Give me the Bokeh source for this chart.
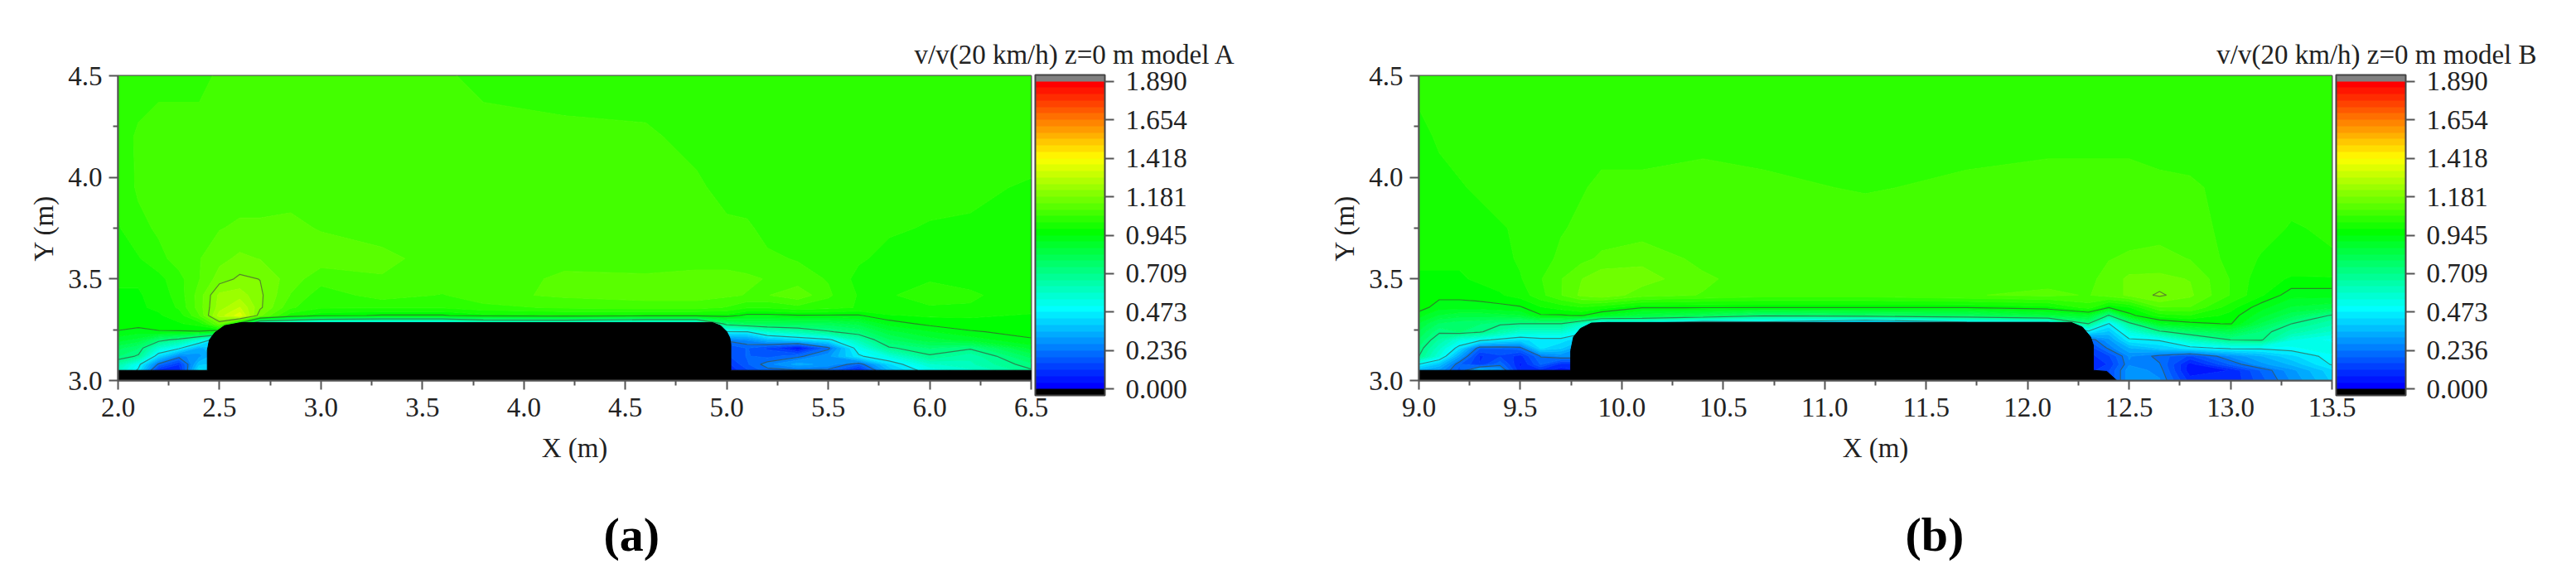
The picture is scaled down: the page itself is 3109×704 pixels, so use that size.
from bokeh.embed import file_html
from bokeh.resources import INLINE
from bokeh.plotting import figure
from bokeh.layouts import row
from bokeh.models import ColorBar, FixedTicker, LinearColorMapper, Range1d, Title
import numpy as np

# ---------- shared scale ----------
colorbar_ticks = [0.000, 0.236, 0.473, 0.709, 0.945, 1.181, 1.418, 1.654, 1.890]
colorbar_tick_labels = ["0.000", "0.236", "0.473", "0.709", "0.945", "1.181", "1.418", "1.654", "1.890"]
contour_line_levels = [0.236, 0.473, 0.709, 0.945, 1.181]
band_count = 48
y_ticks = [3.0, 3.5, 4.0, 4.5]
y_minor = [3.25, 3.75, 4.25]

# ---------- panel A: v/v in hundredths on a rectilinear grid, rows ascending in y ----------
a_x = [2.0, 2.1, 2.2, 2.3, 2.4, 2.5, 2.6, 2.7, 2.85, 3.0, 3.3, 3.6, 3.8, 4.2, 4.6, 4.85, 5.0, 5.1, 5.2, 5.35, 5.5, 5.65, 5.8, 6.0, 6.2, 6.5]
a_y = [3.05, 3.08, 3.12, 3.16, 3.2, 3.24, 3.28, 3.32, 3.36, 3.42, 3.5, 3.6, 3.75, 3.95, 4.2, 4.5]
a_speed = [
    [60, 46, 10, 8, 45, 40, 40, 40, 40, 40, 40, 40, 40, 40, 40, 40, 8, 15, 22, 23, 22, 8, 36, 52, 58, 70],
    [65, 50, 22, 12, 38, 40, 40, 40, 40, 40, 40, 40, 40, 40, 40, 40, 10, 19, 26, 33, 30, 20, 42, 58, 62, 74],
    [75, 70, 42, 26, 30, 40, 40, 40, 40, 40, 40, 40, 40, 40, 40, 40, 15, 20, 18, 22, 30, 46, 55, 70, 64, 80],
    [80, 75, 57, 49, 34, 40, 40, 40, 40, 40, 40, 40, 40, 40, 40, 40, 15, 20, 15, 4, 22, 52, 70, 75, 72, 88],
    [88, 85, 74, 68, 56, 40, 40, 40, 40, 40, 40, 40, 40, 40, 40, 40, 25, 28, 35, 40, 45, 63, 78, 85, 88, 94],
    [94, 92, 94, 94, 94, 90, 40, 40, 40, 40, 40, 40, 40, 40, 40, 40, 47, 47, 58, 63, 70, 75, 85, 90, 94, 96],
    [97, 97, 97, 98, 100, 115, 90, 50, 50, 42, 40, 40, 50, 50, 45, 45, 75, 80, 80, 80, 80, 84, 92, 96, 97, 97],
    [97, 97, 98, 100, 110, 128, 136, 115, 100, 96, 94, 94, 97, 98, 97, 97, 97, 93, 93, 94, 94, 94, 98, 99, 99, 98],
    [98, 98, 99, 103, 112, 124, 130, 119, 107, 103, 103, 103, 105, 107, 108, 108, 106, 103, 103, 105, 104, 102, 102, 102, 102, 100],
    [98, 98, 100, 104, 112, 123, 124, 119, 110, 104, 108, 106, 109, 111, 112, 112, 111, 110, 110, 113, 107, 102, 102, 104, 103, 100],
    [99, 99, 101, 105, 110, 116, 119, 118, 112, 108, 110, 109, 108, 111, 111, 112, 112, 111, 110, 108, 106, 101, 101, 102, 101, 100],
    [100, 102, 105, 108, 110, 113, 115, 114, 113, 112, 111, 109, 108, 109, 108, 108, 108, 108, 107, 106, 104, 103, 101, 100, 100, 100],
    [102, 105, 107, 108, 109, 110, 111, 111, 111, 110, 109, 108, 108, 108, 108, 108, 107, 107, 105, 104, 104, 103, 103, 102, 102, 101],
    [103, 107, 108, 108, 108, 108, 108, 108, 109, 109, 109, 108, 108, 108, 108, 107, 105, 104, 104, 104, 104, 104, 104, 104, 103, 102],
    [104, 107, 108, 108, 108, 108, 108, 108, 108, 108, 108, 108, 108, 107, 107, 105, 104, 104, 104, 104, 104, 104, 104, 104, 104, 104],
    [104, 104, 105, 105, 105, 107, 107, 107, 108, 108, 108, 107, 105, 105, 104, 104, 104, 104, 104, 104, 104, 104, 104, 104, 104, 104],
]
a_obstacle_x = [2.0, 2.0, 2.44, 2.44, 2.45, 2.476, 2.524, 2.605, 4.93, 4.97, 5.0, 5.015, 5.02, 5.02, 6.5, 6.5]
a_obstacle_y = [3.0, 3.05, 3.05, 3.15, 3.2, 3.235, 3.27, 3.285, 3.285, 3.27, 3.24, 3.21, 3.18, 3.05, 3.05, 3.0]
a_xticks = [2.0, 2.5, 3.0, 3.5, 4.0, 4.5, 5.0, 5.5, 6.0, 6.5]
a_xminor = [2.25, 2.75, 3.25, 3.75, 4.25, 4.75, 5.25, 5.75, 6.25]
a_title = "v/v(20 km/h) z=0 m model A"

# ---------- panel B ----------
b_x = [9.0, 9.1, 9.2, 9.3, 9.4, 9.5, 9.6, 9.7, 9.8, 9.9, 10.1, 10.4, 10.7, 11.2, 11.7, 12.1, 12.3, 12.4, 12.5, 12.65, 12.8, 13.0, 13.15, 13.3, 13.5]
b_y = [3.0, 3.05, 3.08, 3.12, 3.16, 3.2, 3.24, 3.28, 3.32, 3.36, 3.42, 3.5, 3.6, 3.75, 3.95, 4.2, 4.5]
b_speed = [
    [35, 30, 18, 38, 30, 8, 10, 6, 8, 40, 40, 40, 40, 40, 40, 40, 10, 15, 30, 28, 10, 8, 18, 28, 40],
    [35, 30, 18, 38, 30, 8, 10, 6, 8, 40, 40, 40, 40, 40, 40, 40, 10, 15, 30, 26, 5, 8, 20, 30, 42],
    [47, 38, 20, 12, 22, 7, 20, 10, 10, 40, 40, 40, 40, 40, 40, 40, 10, 12, 27, 24, 6, 20, 30, 36, 48],
    [71, 55, 32, 11, 15, 10, 24, 28, 28, 40, 40, 40, 40, 40, 40, 40, 10, 15, 28, 22, 15, 28, 35, 42, 50],
    [74, 60, 44, 20, 20, 22, 44, 40, 30, 40, 40, 40, 40, 40, 40, 40, 12, 25, 35, 40, 45, 49, 49, 50, 55],
    [78, 66, 55, 50, 45, 42, 45, 45, 40, 40, 40, 40, 40, 40, 40, 40, 20, 30, 46, 48, 60, 71, 72, 55, 50],
    [82, 72, 75, 72, 65, 58, 58, 58, 50, 40, 40, 40, 40, 40, 40, 40, 45, 38, 55, 69, 77, 82, 74, 65, 58],
    [86, 78, 76, 75, 72, 71, 71, 71, 60, 40, 45, 35, 40, 25, 40, 40, 71, 47, 68, 90, 93, 95, 82, 71, 64],
    [92, 86, 84, 84, 85, 86, 94, 94, 95, 90, 84, 80, 72, 76, 78, 85, 88, 70, 93, 100, 102, 97, 88, 80, 70],
    [97, 92, 92, 92, 93, 94, 98, 100, 102, 100, 95, 95, 95, 95, 95, 97, 104, 95, 98, 110, 110, 100, 92, 86, 84],
    [97, 96, 96, 97, 98, 100, 105, 110, 115, 117, 112, 110, 108, 108, 110, 111, 110, 112, 115, 119, 115, 106, 99, 92, 92],
    [98, 98, 98, 99, 100, 102, 106, 110, 114, 117, 116, 111, 108, 108, 109, 109, 109, 112, 115, 115, 114, 106, 100, 98, 98],
    [99, 99, 99, 100, 101, 103, 105, 107, 109, 111, 113, 109, 108, 108, 108, 108, 108, 110, 111, 112, 110, 105, 102, 101, 102],
    [100, 100, 100, 101, 102, 103, 104, 106, 107, 108, 108, 108, 108, 108, 108, 108, 108, 108, 108, 108, 108, 105, 104, 102, 103],
    [100, 101, 102, 103, 104, 104, 104, 105, 106, 107, 107, 108, 107, 106, 107, 108, 108, 108, 108, 107, 107, 105, 104, 104, 104],
    [101, 103, 104, 104, 104, 104, 104, 104, 104, 105, 105, 105, 105, 104, 105, 105, 105, 105, 105, 105, 104, 104, 104, 104, 104],
    [104, 104, 104, 104, 104, 104, 104, 104, 104, 104, 104, 104, 104, 104, 104, 104, 104, 104, 104, 104, 104, 104, 104, 104, 104],
]
b_obstacle_x = [9.0, 9.0, 9.748, 9.748, 9.762, 9.796, 9.85, 9.93, 12.215, 12.27, 12.31, 12.324, 12.324, 12.39, 12.44]
b_obstacle_y = [3.0, 3.05, 3.05, 3.147, 3.215, 3.256, 3.283, 3.286, 3.286, 3.263, 3.215, 3.174, 3.05, 3.045, 3.0]
b_xticks = [9.0, 9.5, 10.0, 10.5, 11.0, 11.5, 12.0, 12.5, 13.0, 13.5]
b_xminor = [9.25, 9.75, 10.25, 10.75, 11.25, 11.75, 12.25, 12.75, 13.25]
b_title = "v/v(20 km/h) z=0 m model B"

SERIF = "Liberation Serif"
AXIS = "#555555"
TEXT = "#222222"


def band_color(i):
    k = i if i <= 24 else 24 + (i - 24) * 24 / 23
    stops = [(0, 0, 255), (0, 255, 255), (0, 255, 0), (255, 255, 0), (255, 0, 0)]
    t = k / 12
    n = min(int(t), 3)
    f = t - n
    c = [round(stops[n][j] + (stops[n + 1][j] - stops[n][j]) * f) for j in range(3)]
    return "#%02x%02x%02x" % tuple(c)


palette = [band_color(i) for i in range(band_count)]
step = colorbar_ticks[-1] / band_count
levels = [i * step for i in range(band_count + 1)]


def panel(xs, ys, speed, ox, oy, xticks, xminor, title, tag, left, right, tag_offset):
    z = np.array(speed, dtype=float) / 100
    p = figure(
        frame_width=1102, frame_height=368,
        min_border_left=left, min_border_right=right, min_border_top=91, min_border_bottom=240,
        x_range=Range1d(xs[0], xs[-1]), y_range=Range1d(3.0, 4.5),
        toolbar_location=None, output_backend="svg", background_fill_color="white",
    )
    p.grid.visible = False
    p.outline_line_color = AXIS
    p.outline_line_width = 2
    p.contour(np.array(xs), np.array(ys), z, levels=levels, fill_color=palette,
              line_color=palette + [palette[-1]], line_width=1.2)
    p.contour(np.array(xs), np.array(ys), z, levels=contour_line_levels,
              line_color="#3c4a3c", line_width=1.2, line_alpha=0.65)
    p.patch(ox, oy, fill_color="black", line_color="black", line_width=1)

    for ax, label, major, minor in (
        (p.xaxis[0], "X (m)", xticks, xminor),
        (p.yaxis[0], "Y (m)", y_ticks, y_minor),
    ):
        ax.ticker = FixedTicker(ticks=major, minor_ticks=minor)
        ax.major_label_overrides = {t: "%.1f" % t for t in major}
        ax.axis_label = label
        ax.axis_label_text_font = SERIF
        ax.axis_label_text_font_style = "normal"
        ax.axis_label_text_font_size = "33px"
        ax.axis_label_text_color = TEXT
        ax.major_label_text_font = SERIF
        ax.major_label_text_font_size = "33px"
        ax.major_label_text_color = TEXT
        ax.axis_line_color = AXIS
        ax.axis_line_width = 2
        ax.major_tick_line_color = AXIS
        ax.minor_tick_line_color = AXIS
        ax.major_tick_line_width = 2
        ax.minor_tick_line_width = 2
        ax.major_tick_in = 0
        ax.minor_tick_in = 0
        ax.major_tick_out = 11
        ax.minor_tick_out = 6
    p.xaxis[0].major_label_standoff = 10
    p.xaxis[0].axis_label_standoff = 17
    p.yaxis[0].major_label_standoff = 8
    p.yaxis[0].axis_label_standoff = 8
    p.xaxis[0].major_label_orientation = "horizontal"

    mapper = LinearColorMapper(palette=["#000000"] + palette + ["#808080"],
                               low=-step, high=colorbar_ticks[-1] + step)
    bar = ColorBar(
        color_mapper=mapper, width=84, height=387, padding=0, margin=5, location=(5, -18),
        ticker=FixedTicker(ticks=colorbar_ticks),
        major_label_overrides={t: s for t, s in zip(colorbar_ticks, colorbar_tick_labels)},
        major_label_text_font=SERIF, major_label_text_font_size="33px", major_label_text_color=TEXT,
        major_tick_line_color=AXIS, major_tick_line_width=2, major_tick_in=0, major_tick_out=11,
        bar_line_color="#444444", bar_line_width=2, label_standoff=14,
        background_fill_alpha=0, border_line_color=None,
    )
    p.add_layout(bar, "right")

    p.add_layout(Title(text=title, align="right", offset=-247, standoff=12, vertical_align="top",
                       text_font=SERIF, text_font_size="33px", text_font_style="normal",
                       text_color=TEXT), "above")
    p.add_layout(Title(text=tag, align="left", offset=tag_offset, standoff=98,
                       text_font=SERIF, text_font_size="58px", text_font_style="bold",
                       text_color="black"), "below")
    return p


pa = panel(a_x, a_y, a_speed, a_obstacle_x, a_obstacle_y, a_xticks, a_xminor, a_title, "(a)",
           142, 256, 586)
pb = panel(b_x, b_y, b_speed, b_obstacle_x, b_obstacle_y, b_xticks, b_xminor, b_title, "(b)",
           212, 286, 587)

out = row(pa, pb, spacing=0)
open("out.html", "w").write(file_html(out, INLINE))
